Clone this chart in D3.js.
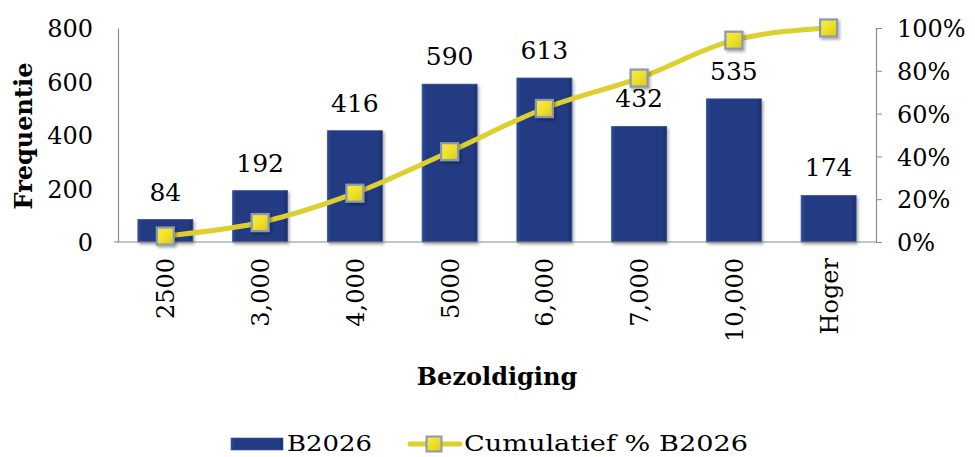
<!DOCTYPE html>
<html>
<head>
<meta charset="utf-8">
<script src="https://cdn.jsdelivr.net/npm/d3@7"></script>
<style>
  html, body { margin: 0; padding: 0; background: #fff; }
  svg { display: block; font-family: "DejaVu Serif", "Liberation Serif", serif; }
</style>
</head>
<body>
<svg id="chart" width="975" height="457"></svg>
<script>
// Salary bands and frequency counts
const categories = ["2500", "3,000", "4,000", "5000", "6,000", "7,000", "10,000", "Hoger"];
const frequency = [84, 192, 416, 590, 613, 432, 535, 174];
// Cumulative share (%) per band
const cumulative = [2.8, 9.1, 22.8, 42.2, 62.4, 76.6, 94.3, 100];
const leftTicks = [0, 200, 400, 600, 800];
const rightTicks = [0, 20, 40, 60, 80, 100];

const svg = d3.select("#chart");
const m = { left: 118, right: 876, top: 28, bottom: 242 };

const x = d3.scaleBand().domain(categories).range([m.left, m.right]).paddingInner(0.42).paddingOuter(0.21);
const yL = d3.scaleLinear().domain([0, 800]).range([m.bottom, m.top]);
const yR = d3.scaleLinear().domain([0, 100]).range([m.bottom, m.top]);

const defs = svg.append("defs");
const barGrad = defs.append("linearGradient").attr("id", "barGrad").attr("x1", 0).attr("x2", 1).attr("y1", 0).attr("y2", 0);
barGrad.append("stop").attr("offset", "0%").attr("stop-color", "#2f4a94");
barGrad.append("stop").attr("offset", "8%").attr("stop-color", "#233b82");
barGrad.append("stop").attr("offset", "92%").attr("stop-color", "#233b82");
barGrad.append("stop").attr("offset", "100%").attr("stop-color", "#1a2d66");
const mkGrad = defs.append("linearGradient").attr("id", "mkGrad").attr("x1", 0).attr("x2", 1).attr("y1", 0).attr("y2", 1);
mkGrad.append("stop").attr("offset", "0%").attr("stop-color", "#f7ec4a");
mkGrad.append("stop").attr("offset", "50%").attr("stop-color", "#efe02a");
mkGrad.append("stop").attr("offset", "100%").attr("stop-color", "#d9c81c");
const shadow = defs.append("filter").attr("id", "shadow").attr("x", "-30%").attr("y", "-30%").attr("width", "160%").attr("height", "160%");
shadow.append("feDropShadow").attr("dx", 1.5).attr("dy", 2).attr("stdDeviation", 1.5).attr("flood-color", "#000").attr("flood-opacity", 0.35);

const FS = 24;

// Left axis
const axL = svg.append("g").attr("transform", `translate(${m.left},0)`)
  .call(d3.axisLeft(yL).tickValues(leftTicks).tickSize(0).tickPadding(25));
axL.select(".domain").attr("stroke", "#8c8c8c").attr("stroke-width", 1.2);
axL.selectAll("text").attr("font-size", FS).attr("fill", "#000").attr("dy", "0.36em")
  .attr("font-family", "DejaVu Serif");

// Right axis
const axR = svg.append("g").attr("transform", `translate(${m.right},0)`)
  .call(d3.axisRight(yR).tickValues(rightTicks).tickSize(6).tickPadding(15).tickFormat(d => d + "%"));
axR.select(".domain").attr("stroke", "#8c8c8c").attr("stroke-width", 1.2);
axR.selectAll("line").attr("stroke", "#8c8c8c");
axR.selectAll("text").attr("font-size", FS).attr("fill", "#000").attr("dy", "0.36em")
  .attr("font-family", "DejaVu Serif");

// Bars
svg.append("g").selectAll("rect").data(frequency).join("rect")
  .attr("x", (d, i) => x(categories[i]))
  .attr("y", d => yL(d))
  .attr("width", x.bandwidth())
  .attr("height", d => yL(0) - yL(d))
  .attr("fill", "url(#barGrad)")
  .attr("stroke", "#3a5199").attr("stroke-width", 0.8)
  .attr("filter", "url(#shadow)");

// Baseline
svg.append("line").attr("x1", m.left - 4).attr("x2", m.right).attr("y1", m.bottom).attr("y2", m.bottom)
  .attr("stroke", "#8c8c8c").attr("stroke-width", 1.2);

// Value labels
svg.append("g").selectAll("text").data(frequency).join("text")
  .attr("x", (d, i) => x(categories[i]) + x.bandwidth() / 2)
  .attr("y", d => yL(d) - 19)
  .attr("text-anchor", "middle")
  .attr("font-size", 25).attr("fill", "#000")
  .text(d => d);

// Cumulative line
const cx = (d, i) => x(categories[i]) + x.bandwidth() / 2;
svg.append("path").datum(cumulative)
  .attr("d", d3.line().x(cx).y(d => yR(d)).curve(d3.curveMonotoneX))
  .attr("fill", "none").attr("stroke", "#dccf2e").attr("stroke-width", 5);

// Markers
const ms = 17;
svg.append("g").selectAll("rect").data(cumulative).join("rect")
  .attr("x", (d, i) => cx(d, i) - ms / 2)
  .attr("y", d => yR(d) - ms / 2)
  .attr("width", ms).attr("height", ms)
  .attr("fill", "url(#mkGrad)")
  .attr("stroke", "#8a98b0").attr("stroke-width", 2.2)
  .attr("filter", "url(#shadow)");

// Category labels
svg.append("g").selectAll("text").data(categories).join("text")
  .attr("transform", (d, i) => `translate(${x(d) + x.bandwidth() / 2 + 9},258) rotate(-90)`)
  .attr("text-anchor", "end")
  .attr("font-size", FS).attr("fill", "#000")
  .text(d => d);

// Axis titles
svg.append("text").attr("transform", "translate(32,136) rotate(-90)")
  .attr("text-anchor", "middle").attr("font-size", FS).attr("font-weight", "bold").attr("fill", "#000")
  .text("Frequentie");
svg.append("text").attr("x", 497).attr("y", 385)
  .attr("text-anchor", "middle").attr("font-size", FS).attr("font-weight", "bold").attr("fill", "#000")
  .text("Bezoldiging");

// Legend
const lg = svg.append("g");
const lms = 15;
lg.append("rect").attr("x", 231).attr("y", 438).attr("width", 52).attr("height", 12)
  .attr("fill", "url(#barGrad)").attr("stroke", "#3a5199").attr("stroke-width", 0.6);
lg.append("text").attr("x", 287).attr("y", 451).attr("font-size", 22).attr("fill", "#000")
  .attr("textLength", 85).attr("lengthAdjust", "spacingAndGlyphs").text("B2026");
lg.append("line").attr("x1", 410).attr("x2", 460).attr("y1", 444).attr("y2", 444)
  .attr("stroke", "#dccf2e").attr("stroke-width", 5).attr("stroke-linecap", "round");
lg.append("rect").attr("x", 434 - lms / 2).attr("y", 444 - lms / 2).attr("width", lms).attr("height", lms)
  .attr("fill", "url(#mkGrad)").attr("stroke", "#8a98b0").attr("stroke-width", 2);
lg.append("text").attr("x", 464).attr("y", 451).attr("font-size", 22).attr("fill", "#000")
  .attr("textLength", 284).attr("lengthAdjust", "spacingAndGlyphs").text("Cumulatief % B2026");
</script>
</body>
</html>
